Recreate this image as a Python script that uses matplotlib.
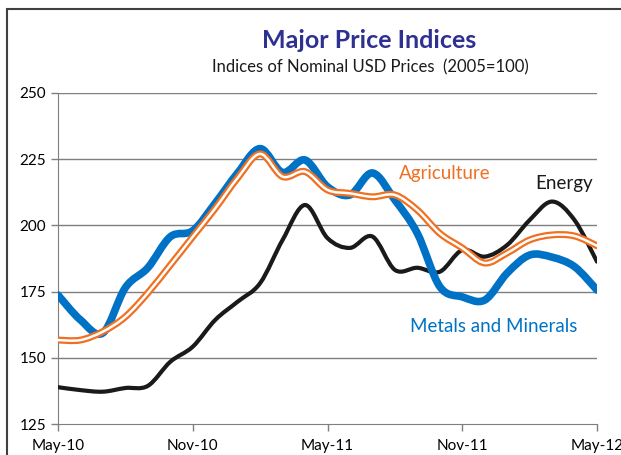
import numpy as np
import matplotlib
matplotlib.use("Agg")
import matplotlib.pyplot as plt
from matplotlib.path import Path
from matplotlib.patches import PathPatch, Rectangle

months = ["May-10", "Jun-10", "Jul-10", "Aug-10", "Sep-10", "Oct-10", "Nov-10",
          "Dec-10", "Jan-11", "Feb-11", "Mar-11", "Apr-11", "May-11", "Jun-11",
          "Jul-11", "Aug-11", "Sep-11", "Oct-11", "Nov-11", "Dec-11", "Jan-12",
          "Feb-12", "Mar-12", "Apr-12", "May-12"]
energy = [138.9, 137.8, 137.2, 138.6, 139.4, 148.5, 154.2, 164.3, 171.2, 178.2,
          194.5, 207.7, 195.2, 191.5, 195.8, 183.2, 184.0, 182.5, 190.7, 188.2,
          192.6, 202.0, 209.0, 202.0, 186.3]
agriculture = [156.7, 156.7, 159.9, 165.5, 174.5, 185.0, 195.7, 206.4, 217.9, 227.0,
               218.4, 220.3, 213.4, 212.1, 210.8, 211.5, 205.8, 197.0, 191.5, 185.8,
               189.6, 194.5, 196.4, 196.0, 192.3]
metals = [173.7, 164.3, 159.4, 176.5, 184.0, 195.7, 198.0, 208.4, 219.8, 229.0,
          220.0, 224.7, 214.6, 211.5, 219.8, 209.6, 197.0, 176.9, 173.0, 171.8,
          182.0, 188.8, 188.0, 184.4, 175.6]
tick_idx = [0, 6, 12, 18, 24]
yticks = [125, 150, 175, 200, 225, 250]

W, H = 621, 455


def smooth_path(x, y):
    # Excel-style smoothed line: cubic Bezier segments through every point
    pts = np.column_stack([x, y]).astype(float)
    verts = [pts[0]]
    codes = [Path.MOVETO]
    n = len(pts)
    for i in range(n - 1):
        p0 = pts[i - 1] if i > 0 else pts[i]
        p1 = pts[i]
        p2 = pts[i + 1]
        p3 = pts[i + 2] if i + 2 < n else pts[i + 1]
        verts += [p1 + (p2 - p0) / 6, p2 - (p3 - p1) / 6, p2]
        codes += [Path.CURVE4] * 3
    return Path(verts, codes)


def draw(ax, y, **kw):
    x = np.arange(len(y))
    ax.add_patch(PathPatch(smooth_path(x, y), fill=False, capstyle="round",
                           joinstyle="round", **kw))


def ftext(px, py, s, **kw):
    # place text by pixel position measured from the top-left corner
    fig.text(px / W, 1 - py / H, s, ha="center", va="center", **kw)


plt.rcParams["font.family"] = ["Lato", "DejaVu Sans"]

fig = plt.figure(figsize=(W / 100, H / 100), dpi=100)
ax = fig.add_axes([58 / W, 1 - 424 / H, 539 / W, 331 / H])

fig.patches.append(Rectangle((7 / W, -0.1), 1.2, 1 - 9 / H + 0.1,
                             transform=fig.transFigure, fill=False,
                             edgecolor="#404040", linewidth=1.5))

for v in yticks[1:]:
    ax.axhline(v, color="#7f7f7f", linewidth=1, zorder=1)

draw(ax, energy, edgecolor="#1a1a1a", linewidth=3, zorder=3)
draw(ax, metals, edgecolor="#0072c6", linewidth=5.5, zorder=4)
draw(ax, agriculture, edgecolor="#f07021", linewidth=5, zorder=5)
draw(ax, agriculture, edgecolor="white", linewidth=1.8, zorder=6)

ax.set_xlim(0, 24)
ax.set_ylim(125, 250)
ax.set_yticks(yticks)
ax.set_xticks(tick_idx)
ax.set_xticklabels([months[i] for i in tick_idx])
ax.tick_params(axis="both", labelsize=11, color="#7f7f7f", length=5, width=1)
ax.tick_params(axis="x", pad=6)
for s in ["top", "right"]:
    ax.spines[s].set_visible(False)
for s in ["left", "bottom"]:
    ax.spines[s].set_color("#7f7f7f")

ftext(369, 40, "Major Price Indices", fontsize=18, fontweight="bold", color="#2e3192")
ftext(370, 67, "Indices of Nominal USD Prices  (2005=100)", fontsize=12, color="#1a1a1a")
ftext(445, 174, "Agriculture", fontsize=13.5, color="#f07021")
ftext(564, 184, "Energy", fontsize=13.5, color="#1a1a1a")
ftext(494, 327, "Metals and Minerals", fontsize=13.5, color="#0072c6")

fig.savefig("out.png", dpi=100)
